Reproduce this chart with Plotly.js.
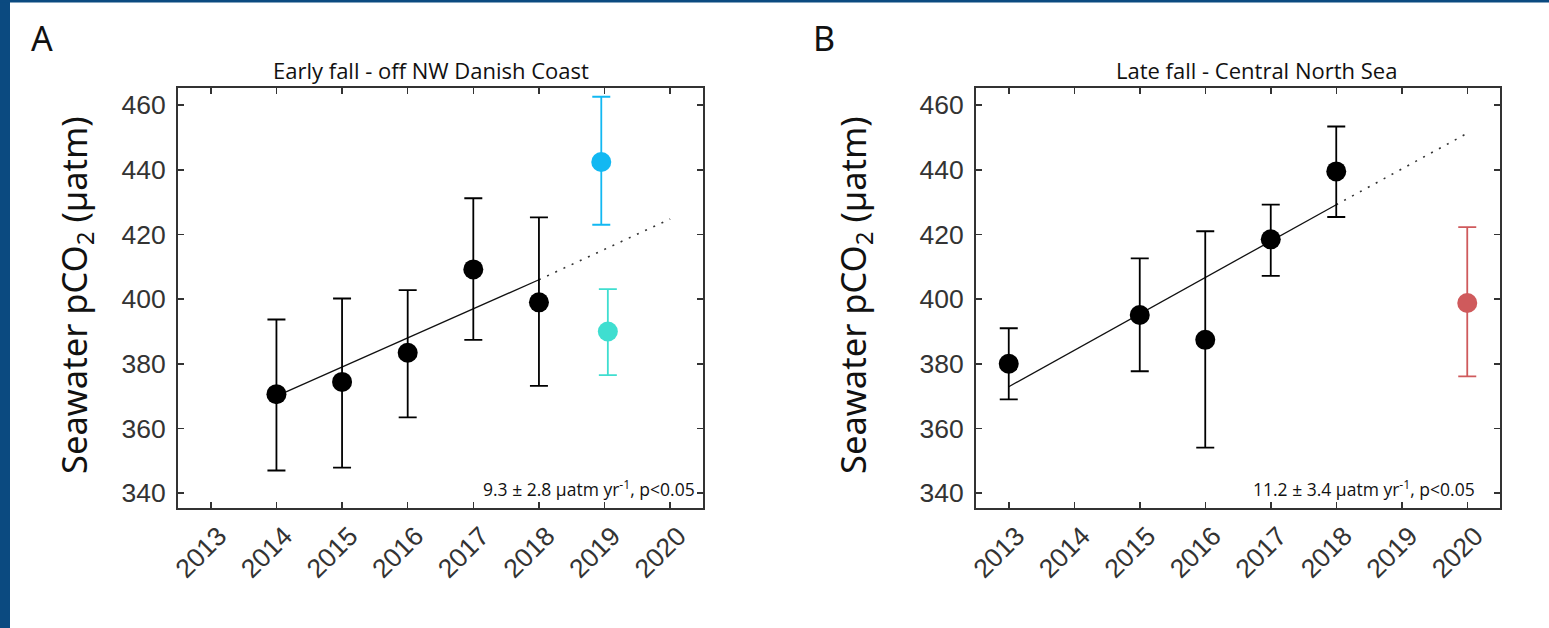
<!DOCTYPE html>
<html>
<head>
<meta charset="utf-8">
<script src="https://cdn.plot.ly/plotly-3.0.1.min.js"></script>
<style>
  html, body { margin: 0; padding: 0; background: #ffffff; }
  #chart { width: 1549px; height: 628px; }
</style>
</head>
<body>
<div id="chart"></div>
<script>
// ---------- Panel A: Early fall - off NW Danish Coast ----------
const yearsA = [2014, 2015, 2016, 2017, 2018];
const meanA  = [370.6, 374.4, 383.4, 409.2, 399.0];
const upperA = [393.7, 400.2, 402.8, 431.2, 425.3];
const lowerA = [347.0, 347.9, 363.4, 387.4, 373.2];

const blueYearA  = [2018.95];
const blueMeanA  = [442.4];
const blueUpperA = [462.6];
const blueLowerA = [423.0];

const tealYearA  = [2019.05];
const tealMeanA  = [390.0];
const tealUpperA = [403.1];
const tealLowerA = [376.5];

const trendXA = [2014, 2018];
const trendYA = [370.0, 406.0];
const projXA  = [2018, 2020];
const projYA  = [406.0, 424.8];

// ---------- Panel B: Late fall - Central North Sea ----------
const yearsB = [2013, 2015, 2016, 2017, 2018];
const meanB  = [380.0, 395.1, 387.4, 418.5, 439.5];
const upperB = [391.0, 412.6, 421.0, 429.2, 453.4];
const lowerB = [369.0, 377.7, 354.1, 407.2, 425.4];

const redYearB  = [2020];
const redMeanB  = [398.8];
const redUpperB = [422.3];
const redLowerB = [376.1];

const trendXB = [2013, 2018];
const trendYB = [372.9, 429.2];
const projXB  = [2018, 2020];
const projYB  = [429.2, 451.3];

// ---------- Axis labels ----------
const xTickVals = [2013, 2014, 2015, 2016, 2017, 2018, 2019, 2020];
const xTickText = ['2013', '2014', '2015', '2016', '2017', '2018', '2019', '2020'];
const yTickVals = [340, 360, 380, 400, 420, 440, 460];
const titleA = 'Early fall - off NW Danish Coast';
const titleB = 'Late fall - Central North Sea';
const statA = '9.3 ± 2.8 µatm yr<sup>-1</sup>, p<0.05';
const statB = '11.2 ± 3.4 µatm yr<sup>-1</sup>, p<0.05';
const yTitle = 'Seawater pCO<sub>2</sub> (µatm)';

const plus  = (m, u) => u.map((v, i) => v - m[i]);
const minus = (m, l) => l.map((v, i) => m[i] - v);

function pointTrace(x, m, u, l, color, xa, ya) {
  return {
    x: x, y: m, type: 'scatter', mode: 'markers', xaxis: xa, yaxis: ya,
    marker: { color: color, size: 20, line: { width: 0 } },
    error_y: { type: 'data', symmetric: false, array: plus(m, u), arrayminus: minus(m, l),
               color: color, thickness: 1.8, width: 9 },
    showlegend: false, hoverinfo: 'x+y'
  };
}
function lineTrace(x, y, dotted, xa, ya) {
  return {
    x: x, y: y, type: 'scatter', mode: 'lines', xaxis: xa, yaxis: ya,
    line: dotted ? { color: '#333333', width: 1.6, dash: '2px,7px' }
                 : { color: '#111111', width: 1.3, dash: 'solid' },
    showlegend: false, hoverinfo: 'skip'
  };
}

const traces = [
  lineTrace(trendXA, trendYA, false, 'x', 'y'),
  lineTrace(projXA, projYA, true, 'x', 'y'),
  pointTrace(yearsA, meanA, upperA, lowerA, '#000000', 'x', 'y'),
  pointTrace(blueYearA, blueMeanA, blueUpperA, blueLowerA, '#12b8f2', 'x', 'y'),
  pointTrace(tealYearA, tealMeanA, tealUpperA, tealLowerA, '#3fded0', 'x', 'y'),
  lineTrace(trendXB, trendYB, false, 'x2', 'y2'),
  lineTrace(projXB, projYB, true, 'x2', 'y2'),
  pointTrace(yearsB, meanB, upperB, lowerB, '#000000', 'x2', 'y2'),
  pointTrace(redYearB, redMeanB, redUpperB, redLowerB, '#cf5a5c', 'x2', 'y2')
];

const W = 1549, H = 628;
const px = v => v / W;
const py = v => 1 - v / H;

const tickFont = { family: 'Liberation Sans, Arial, sans-serif', size: 26.5, color: '#333333' };
function xAxis(domain, anchor) {
  return {
    domain: domain, anchor: anchor, range: [2012.5, 2020.5],
    tickmode: 'array', tickvals: xTickVals, ticktext: xTickText, tickangle: -45,
    ticks: 'inside', ticklen: 6, tickwidth: 1.5, tickcolor: '#333333',
    showline: true, linecolor: '#333333', linewidth: 2, mirror: 'ticks',
    showgrid: false, zeroline: false, tickfont: tickFont, ticklabelshift: 8
  };
}
function yAxis(domain, anchor) {
  return {
    domain: domain, anchor: anchor, range: [335.4, 465.3],
    tickmode: 'array', tickvals: yTickVals,
    ticks: 'inside', ticklen: 6, tickwidth: 1.5, tickcolor: '#333333',
    showline: true, linecolor: '#333333', linewidth: 2, mirror: 'ticks',
    showgrid: false, zeroline: false, tickfont: tickFont, ticklabelstandoff: 5
  };
}

function note(text, x, y, size, family, extra) {
  return Object.assign({
    text: text, xref: 'paper', yref: 'paper', x: px(x), y: py(y),
    xanchor: 'center', yanchor: 'middle', showarrow: false,
    font: { family: family, size: size, color: '#111111' }
  }, extra || {});
}

const yDom = [py(508), py(88)];
const layout = {
  width: W, height: H,
  margin: { l: 0, r: 0, t: 0, b: 0 },
  paper_bgcolor: '#ffffff', plot_bgcolor: '#ffffff',
  xaxis: xAxis([px(178), px(703)], 'y'),
  yaxis: yAxis(yDom, 'x'),
  xaxis2: xAxis([px(976), px(1500)], 'y2'),
  yaxis2: yAxis(yDom, 'x2'),
  shapes: [
    { type: 'rect', xref: 'paper', yref: 'paper', x0: 0, x1: px(10), y0: 0, y1: 1,
      fillcolor: '#0b4a80', line: { width: 0 } },
    { type: 'rect', xref: 'paper', yref: 'paper', x0: 0, x1: 1, y0: py(2.5), y1: 1,
      fillcolor: '#0b4a80', line: { width: 0 } }
  ],
  annotations: [
    note('A', 42, 38, 34, 'Noto Sans, sans-serif'),
    note('B', 824, 38, 34, 'Noto Sans, sans-serif'),
    note(titleA, 431, 70, 22, 'Open Sans, sans-serif'),
    note(titleB, 1256, 70, 22, 'Open Sans, sans-serif'),
    note(statA, 697, 488, 17.5, 'Open Sans, sans-serif', { xanchor: 'right' }),
    note(statB, 1477, 488, 17.5, 'Open Sans, sans-serif', { xanchor: 'right' }),
    note(yTitle, 75, 295, 34.5, 'Noto Sans, sans-serif', { textangle: -90 }),
    note(yTitle, 854, 295, 34.5, 'Noto Sans, sans-serif', { textangle: -90 })
  ]
};

Plotly.newPlot('chart', traces, layout, { displayModeBar: false, staticPlot: true });
</script>
</body>
</html>
